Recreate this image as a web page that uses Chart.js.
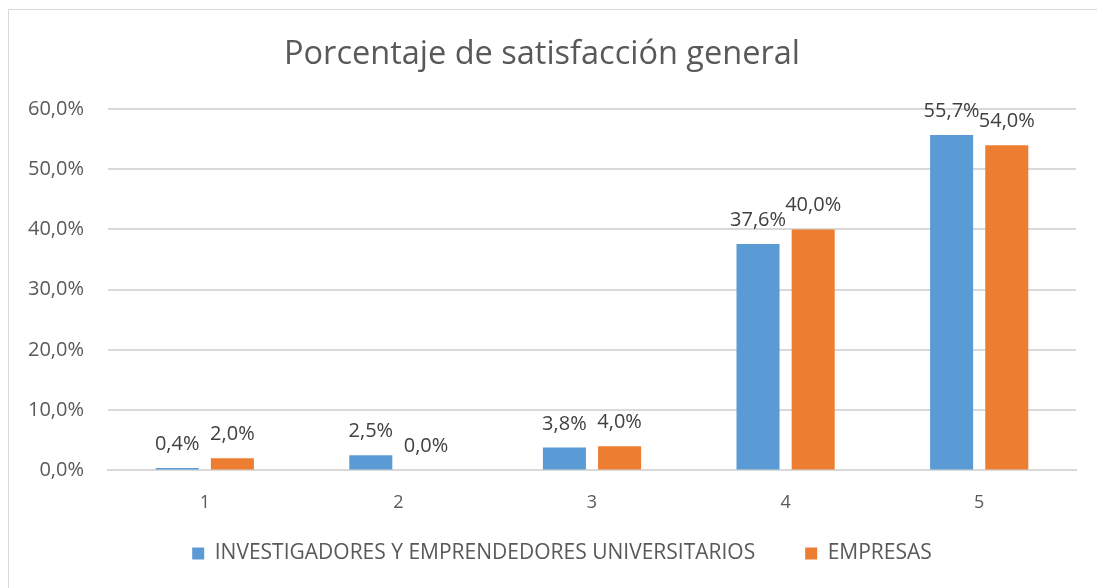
<!DOCTYPE html>
<html><head><meta charset="utf-8">
<script src="https://cdn.jsdelivr.net/npm/chart.js@4.4.1/dist/chart.umd.min.js"></script>
<style>
html,body{margin:0;padding:0;background:#fff;}
#wrap{position:absolute;left:0;top:0;width:1097px;height:588px;}
#frame{position:absolute;left:8px;top:9px;width:1200px;height:700px;border:1px solid #d9d9d9;box-sizing:border-box;pointer-events:none;}
</style></head>
<body>
<div id="wrap"><canvas id="c" width="1097" height="588"></canvas></div>
<div id="frame"></div>
<script>
const categories = ['1','2','3','4','5'];
const seriesNames = ['INVESTIGADORES Y EMPRENDEDORES UNIVERSITARIOS','EMPRESAS'];
const investigadores = [0.4, 2.5, 3.8, 37.6, 55.7];
const empresas = [2.0, 0.0, 4.0, 40.0, 54.0];
const yTicks = [0,10,20,30,40,50,60];

const FONT = '"Open Sans", Lato, sans-serif';
const fmt = v => v.toFixed(1).replace('.', ',') + '%';

const labelPlugin = {
  id: 'barLabels',
  afterLayout(chart) {
    // the legend sits slightly right of centre in the reference
    if (chart.legend) { chart.legend.left += 20; chart.legend.right += 20; }
  },
  afterDatasetsDraw(chart) {
    const ctx = chart.ctx;
    ctx.save();
    ctx.font = '20px ' + FONT;
    ctx.fillStyle = '#404040';
    ctx.textAlign = 'center';
    ctx.textBaseline = 'alphabetic';
    chart.data.datasets.forEach((ds, i) => {
      const meta = chart.getDatasetMeta(i);
      meta.data.forEach((bar, j) => {
        ctx.fillText(fmt(ds.data[j]), bar.x, bar.y - 18);
      });
    });
    ctx.restore();
  }
};

new Chart(document.getElementById('c'), {
  type: 'bar',
  data: {
    labels: categories,
    datasets: [
      {label: seriesNames[0], data: investigadores, backgroundColor: '#5B9BD5', categoryPercentage: 0.57, barPercentage: 0.78},
      {label: seriesNames[1], data: empresas, backgroundColor: '#ED7D31', categoryPercentage: 0.57, barPercentage: 0.78}
    ]
  },
  options: {
    responsive: false,
    animation: false,
    layout: {padding: {left: 8, right: 21, top: 35, bottom: 14}},
    plugins: {
      title: {display: true, text: 'Porcentaje de satisfacción general', color: '#595959',
        font: {family: FONT, size: 32.5, weight: '400'}, padding: {top: 0, bottom: 35}},
      legend: {position: 'bottom', labels: {color: '#595959', font: {family: FONT, size: 21},
        boxWidth: 12, boxHeight: 12, padding: 15,
        generateLabels: ch => {
          const items = Chart.defaults.plugins.legend.labels.generateLabels(ch);
          items.forEach((it, i) => { if (i === 0) it.text = it.text + '\u2003\u2002\u2009'; it.lineWidth = 0; });
          return items;
        }}},
      tooltip: {enabled: false}
    },
    scales: {
      x: {
        grid: {display: false},
        border: {display: true, color: '#d9d9d9', width: 2},
        ticks: {color: '#595959', font: {family: FONT, size: 18}, padding: 14}
      },
      y: {
        min: 0, max: 60,
        afterFit: s => { s.width = 100; },
        afterBuildTicks: s => { s.ticks = yTicks.map(v => ({value: v})); },
        grid: {color: '#d9d9d9', lineWidth: 2, drawTicks: false},
        border: {display: false},
        ticks: {color: '#595959', font: {family: FONT, size: 20}, padding: 24,
          callback: v => fmt(v)}
      }
    }
  },
  plugins: [labelPlugin]
});
</script>
</body></html>
